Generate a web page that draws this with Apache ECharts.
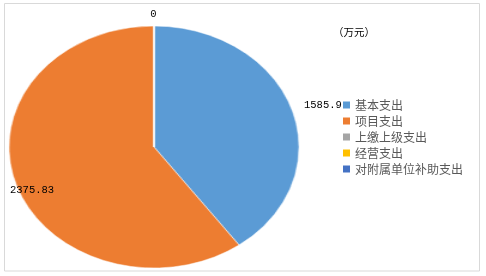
<!DOCTYPE html>
<html>
<head>
<meta charset="utf-8">
<script src="https://cdn.jsdelivr.net/npm/echarts@6/dist/echarts.min.js"></script>
<style>
html,body{margin:0;padding:0;background:#fff;}
#wrap{position:relative;width:486px;height:276px;overflow:hidden;background:#fff;}
#base{position:absolute;left:0;top:0;width:486px;height:276px;z-index:2;}
#pie{position:absolute;left:23.5px;top:17px;width:260px;height:260px;transform:scaleX(1.1983);transform-origin:50% 50%;z-index:1;}
</style>
</head>
<body>
<div id="wrap"><div id="pie"></div><div id="base"></div></div>
<script>
var categories = ['基本支出', '项目支出', '上缴上级支出', '经营支出', '对附属单位补助支出'];
var values = [1585.9, 2375.83, 0, 0, 0];
var colors = ['#5b9bd5', '#ed7d31', '#a5a5a5', '#ffc000', '#4472c4'];
var unitLabel = '（万元）';
var shownLabels = [values[0], values[1], values[2]];

var data = categories.map(function (c, i) {
  return { name: c, value: values[i], itemStyle: { color: colors[i] } };
});

var base = echarts.init(document.getElementById('base'), null, { renderer: 'canvas' });
base.setOption({
  animation: false,
  backgroundColor: 'transparent',
  legend: {
    orient: 'vertical',
    left: 343,
    top: 99,
    padding: 0,
    icon: 'rect',
    itemWidth: 7,
    itemHeight: 7,
    itemGap: 4,
    selectedMode: false,
    textStyle: { fontSize: 12, lineHeight: 12, color: '#595959', fontFamily: 'Noto Sans CJK SC' },
    data: categories
  },
  series: [{
    type: 'pie',
    radius: [0, 0],
    center: [-100, -100],
    silent: true,
    label: { show: false },
    labelLine: { show: false },
    data: data
  }],
  graphic: [
    { type: 'rect', shape: { x: 4.5, y: 3.5, width: 475, height: 267.5 }, style: { fill: 'none', stroke: '#d9d9d9', lineWidth: 1 } },
    { type: 'text', x: 354, y: 32, style: { text: unitLabel, fontSize: 10.5, fill: '#000', fontFamily: 'Noto Sans CJK SC', align: 'center', verticalAlign: 'middle' } },
    { type: 'text', x: 153.5, y: 14.5, z: 10, style: { text: String(shownLabels[2]), fontSize: 10.5, fill: '#000', fontFamily: 'Liberation Mono', align: 'center', verticalAlign: 'middle' } },
    { type: 'text', x: 304, y: 105, z: 10, style: { text: String(shownLabels[0]), fontSize: 10.5, fill: '#000', fontFamily: 'Liberation Mono', align: 'left', verticalAlign: 'middle' } },
    { type: 'text', x: 10, y: 190.5, z: 10, style: { text: String(shownLabels[1]), fontSize: 10.5, fill: '#000', fontFamily: 'Liberation Mono', align: 'left', verticalAlign: 'middle' } }
  ]
});

var pie = echarts.init(document.getElementById('pie'), null, { renderer: 'canvas' });
pie.setOption({
  animation: false,
  series: [{
    type: 'pie',
    center: ['50%', '50%'],
    radius: [0, 121],
    startAngle: 90,
    clockwise: true,
    silent: true,
    label: { show: false },
    labelLine: { show: false },
    itemStyle: { borderColor: '#fff', borderWidth: 0.5 },
    data: data
  }]
});
</script>
</body>
</html>
